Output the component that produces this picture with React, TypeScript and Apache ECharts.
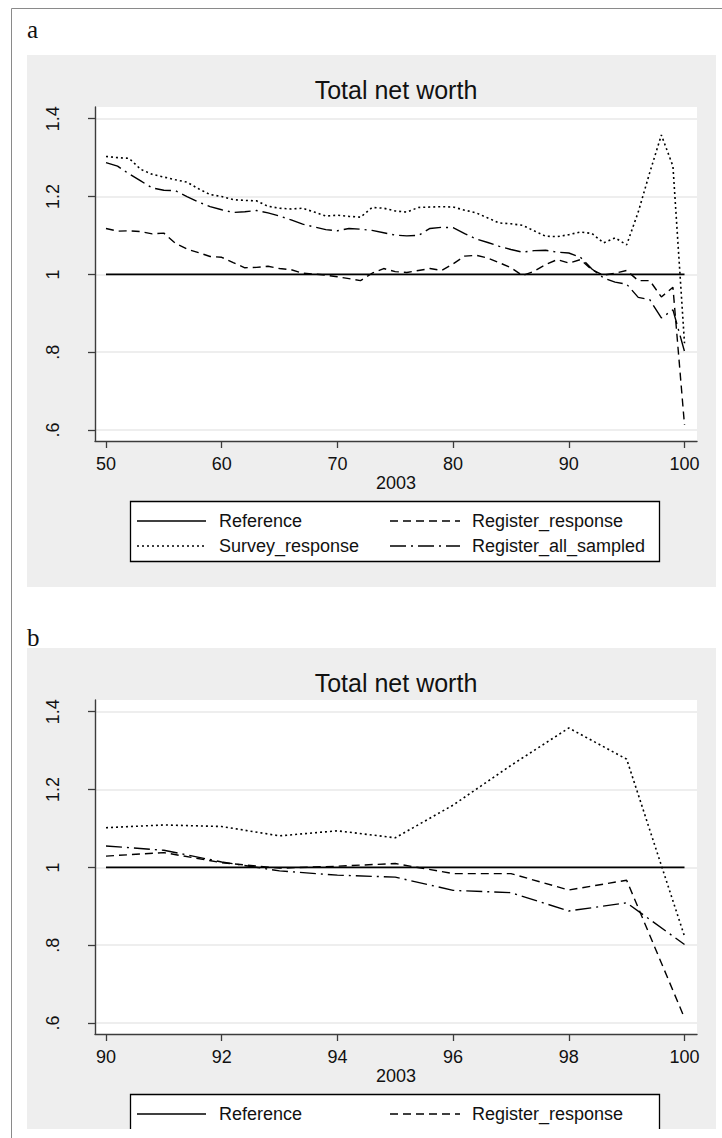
import React, { useEffect, useRef } from "react";
import * as echarts from "echarts";

// ---------- data ----------
const xA = [
  50, 51, 52, 53, 54, 55, 56, 57, 58, 59, 60, 61, 62, 63, 64, 65, 66, 67, 68, 69,
  70, 71, 72, 73, 74, 75, 76, 77, 78, 79, 80, 81, 82, 83, 84, 85, 86, 87, 88, 89,
  90, 91, 92, 93, 94, 95, 96, 97, 98, 99, 100,
];
const surveyA = [
  1.303, 1.3, 1.298, 1.27, 1.257, 1.25, 1.243, 1.237, 1.22, 1.205, 1.2, 1.192, 1.19, 1.189, 1.175, 1.17,
  1.168, 1.17, 1.16, 1.15, 1.152, 1.149, 1.147, 1.172, 1.17, 1.163, 1.16, 1.172, 1.173, 1.174, 1.173,
  1.165, 1.158, 1.145, 1.132, 1.13, 1.126, 1.112, 1.098, 1.097, 1.102, 1.109, 1.105, 1.081, 1.094,
  1.076, 1.16, 1.262, 1.358, 1.278, 0.823,
];
const registerResponseA = [
  1.118, 1.111, 1.112, 1.11, 1.104, 1.106, 1.08, 1.065, 1.056, 1.046, 1.044, 1.03, 1.017, 1.018, 1.021,
  1.015, 1.012, 1.003, 1.001, 0.998, 0.994, 0.989, 0.984, 1.003, 1.015, 1.007, 1.005, 1.01, 1.015, 1.01,
  1.027, 1.047, 1.049, 1.042, 1.03, 1.017, 0.997, 1.008, 1.025, 1.038, 1.029, 1.038, 1.012, 0.998,
  1.003, 1.01, 0.984, 0.984, 0.942, 0.967, 0.613,
];
const registerAllSampledA = [
  1.287, 1.278, 1.258, 1.24, 1.222, 1.216, 1.215, 1.2, 1.186, 1.174, 1.166, 1.159, 1.161, 1.164, 1.158,
  1.15, 1.14, 1.129, 1.122, 1.115, 1.112, 1.118, 1.116, 1.113, 1.107, 1.101, 1.099, 1.1, 1.118, 1.121,
  1.12, 1.105, 1.091, 1.082, 1.072, 1.064, 1.057, 1.061, 1.062, 1.057, 1.055, 1.044, 1.014, 0.991,
  0.98, 0.975, 0.941, 0.935, 0.888, 0.909, 0.802,
];
const referenceLevel = 1;
const panelBStart = 90;

const xTicksA = [50, 60, 70, 80, 90, 100];
const xTicksB = [90, 92, 94, 96, 98, 100];
const yTicks = [0.6, 0.8, 1, 1.2, 1.4];
const yTickLabels = [".6", ".8", "1", "1.2", "1.4"];
const seriesNames = ["Reference", "Register_response", "Survey_response", "Register_all_sampled"];
const panelLabels = ["a", "b"];
const titleText = "Total net worth";
const xAxisName = "2003";

// ---------- styles ----------
const FONT = '"Liberation Sans", Arial, sans-serif';
const SERIF = '"Liberation Serif", "Times New Roman", serif';
const INK = "#111";
const AXIS = "#3c3c3c";
const lineStyles: Record<string, { dash: any; width: number }> = {
  Reference: { dash: "solid", width: 1.6 },
  Register_response: { dash: [8, 5], width: 1.4 },
  Survey_response: { dash: [2, 3], width: 1.6 },
  Register_all_sampled: { dash: [16, 5, 2, 5], width: 1.4 },
};

const PANEL_DY = 593;
const GRID_LEFT = 95;
const GRID_TOP = 107;
const GRID_W = 602;
const GRID_H = 334;
const PAGE_CROP_Y = 1129;

function yLabel(v: number) {
  const i = yTicks.findIndex((t) => Math.abs(t - v) < 1e-6);
  return i >= 0 ? yTickLabels[i] : "";
}

function legendGraphics(dy: number, rowCount: number) {
  const boxX = 130, boxY = 501 + dy, boxW = 529;
  const boxH = rowCount === 2 ? 60 : PAGE_CROP_Y - boxY + 4;
  const rows = [521 + dy, 546 + dy];
  const cols = [{ l1: 137, l2: 206, t: 219 }, { l1: 390, l2: 460, t: 472 }];
  const order = [
    [seriesNames[0], 0, 0],
    [seriesNames[1], 0, 1],
    [seriesNames[2], 1, 0],
    [seriesNames[3], 1, 1],
  ] as [string, number, number][];
  const els: any[] = [
    {
      type: "rect",
      z: 10,
      shape: { x: boxX + 0.5, y: boxY + 0.5, width: boxW, height: boxH },
      style: { fill: "#fff", stroke: "#000", lineWidth: 1.3 },
    },
  ];
  order
    .filter(([, r]) => r < rowCount)
    .forEach(([name, r, c]) => {
      const st = lineStyles[name];
      els.push({
        type: "line",
        z: 11,
        shape: { x1: cols[c].l1, y1: rows[r], x2: cols[c].l2, y2: rows[r] },
        style: {
          stroke: "#000",
          lineWidth: st.width,
          lineDash: st.dash === "solid" ? null : st.dash,
        },
      });
      els.push({
        type: "text",
        z: 11,
        style: {
          text: name,
          x: cols[c].t,
          y: rows[r],
          font: `18px ${FONT}`,
          fill: INK,
          textAlign: "left",
          textVerticalAlign: "middle",
        },
      });
    });
  return els;
}

export default function App() {
  const ref = useRef<HTMLDivElement>(null);

  useEffect(() => {
    if (!ref.current) return;
    const chart = echarts.init(ref.current, undefined, { renderer: "svg" });

    const startIdx = xA.indexOf(panelBStart);
    const panels = [
      {
        xs: xA,
        survey: surveyA,
        resp: registerResponseA,
        all: registerAllSampledA,
        ticks: xTicksA,
        min: 49.05,
        max: 101.08,
      },
      {
        xs: xA.slice(startIdx),
        survey: surveyA.slice(startIdx),
        resp: registerResponseA.slice(startIdx),
        all: registerAllSampledA.slice(startIdx),
        ticks: xTicksB,
        min: 89.81,
        max: 100.216,
      },
    ];

    const grids = panels.map((_, i) => ({
      left: GRID_LEFT,
      top: GRID_TOP + i * PANEL_DY,
      width: GRID_W,
      height: GRID_H,
      show: true,
      backgroundColor: "#ffffff",
      borderWidth: 0,
      containLabel: false,
      outerBoundsMode: "none",
    }));

    const xAxes = panels.map((p, i) => ({
      type: "value",
      gridIndex: i,
      min: p.min,
      max: p.max,
      axisLine: { show: true, onZero: false, lineStyle: { color: AXIS, width: 1.4 } },
      axisTick: { show: true, length: 7, customValues: p.ticks, lineStyle: { color: AXIS, width: 1.3 } },
      axisLabel: {
        customValues: p.ticks,
        margin: 14,
        fontSize: 18,
        fontFamily: FONT,
        color: INK,
        formatter: (v: number) => String(Math.round(v)),
      },
      splitLine: { show: false },
      name: xAxisName,
      nameLocation: "middle",
      nameGap: 30,
      nameTextStyle: { fontSize: 18, fontFamily: FONT, color: INK },
    }));

    const yAxes = panels.map((_, i) => ({
      type: "value",
      gridIndex: i,
      min: 0.572,
      max: 1.43,
      axisLine: { show: true, onZero: false, lineStyle: { color: AXIS, width: 1.4 } },
      axisTick: { show: true, length: 7, customValues: yTicks, lineStyle: { color: AXIS, width: 1.3 } },
      axisLabel: {
        customValues: yTicks,
        rotate: 90,
        margin: 33,
        fontSize: 18,
        fontFamily: FONT,
        color: INK,
        formatter: (v: number) => yLabel(v),
      },
      splitLine: { show: true, lineStyle: { color: "#e9e9e9", width: 1.5 } },
    }));

    const series: any[] = [];
    panels.forEach((p, i) => {
      const mk = (name: string, data: number[][]) => {
        const st = lineStyles[name];
        return {
          name,
          type: "line",
          xAxisIndex: i,
          yAxisIndex: i,
          data,
          symbol: "none",
          silent: true,
          lineStyle: { color: "#000", width: st.width, type: st.dash },
        };
      };
      series.push(
        mk(seriesNames[0], [
          [p.xs[0], referenceLevel],
          [p.xs[p.xs.length - 1], referenceLevel],
        ])
      );
      series.push(mk(seriesNames[1], p.xs.map((x, k) => [x, p.resp[k]])));
      series.push(mk(seriesNames[2], p.xs.map((x, k) => [x, p.survey[k]])));
      series.push(mk(seriesNames[3], p.xs.map((x, k) => [x, p.all[k]])));
    });

    const graphics: any[] = [
      // outer frame (top and left)
      { type: "line", z: 5, shape: { x1: 11.5, y1: 8.5, x2: 722, y2: 8.5 }, style: { stroke: "#8a8a8a", lineWidth: 1 } },
      { type: "line", z: 30, shape: { x1: 11.5, y1: 8.5, x2: 11.5, y2: 1138 }, style: { stroke: "#8a8a8a", lineWidth: 1 } },
      // gray panel backgrounds
      { type: "rect", z: -1, shape: { x: 27, y: 55, width: 689, height: 532 }, style: { fill: "#eeeeee" } },
      { type: "rect", z: -1, shape: { x: 27, y: 648, width: 689, height: PAGE_CROP_Y - 648 }, style: { fill: "#eeeeee" } },
      // panel letters
      {
        type: "text",
        z: 5,
        style: { text: panelLabels[0], x: 27, y: 29, font: `25px ${SERIF}`, fill: INK, textAlign: "left", textVerticalAlign: "middle" },
      },
      {
        type: "text",
        z: 5,
        style: { text: panelLabels[1], x: 27, y: 637, font: `25px ${SERIF}`, fill: INK, textAlign: "left", textVerticalAlign: "middle" },
      },
      // titles
      {
        type: "text",
        z: 5,
        style: { text: titleText, x: 396, y: 90, font: `25px ${FONT}`, fill: INK, textAlign: "center", textVerticalAlign: "middle" },
      },
      {
        type: "text",
        z: 5,
        style: { text: titleText, x: 396, y: 90 + PANEL_DY, font: `25px ${FONT}`, fill: INK, textAlign: "center", textVerticalAlign: "middle" },
      },
      ...legendGraphics(0, 2),
      ...legendGraphics(PANEL_DY, 1),
      // the picture is cropped at the bottom
      { type: "rect", z: 20, shape: { x: 12, y: PAGE_CROP_Y, width: 710, height: 1138 - PAGE_CROP_Y }, style: { fill: "#ffffff" } },
    ];

    chart.setOption({
      animation: false,
      backgroundColor: "#ffffff",
      grid: grids,
      xAxis: xAxes,
      yAxis: yAxes,
      series,
      graphic: { elements: graphics },
    });

    return () => chart.dispose();
  }, []);

  return (
    <div
      ref={ref}
      style={{ position: "absolute", left: 0, top: 0, width: 722, height: 1138 }}
    />
  );
}
